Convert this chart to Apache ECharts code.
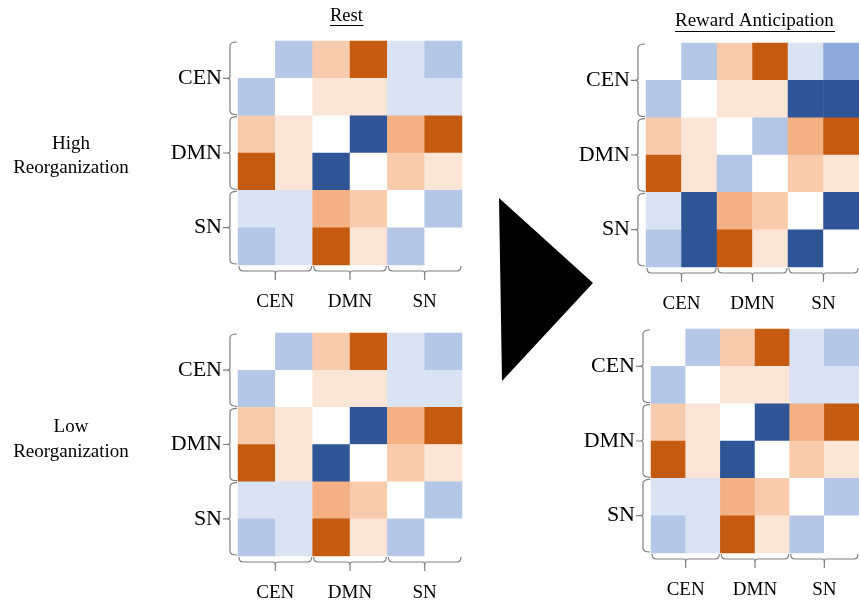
<!DOCTYPE html>
<html>
<head>
<meta charset="utf-8">
<script src="https://cdn.jsdelivr.net/npm/echarts@6/dist/echarts.min.js"></script>
<style>
html,body{margin:0;padding:0;background:#fff;}
#chart{width:859px;height:603px;}
</style>
</head>
<body>
<div id="chart"></div>
<script>
// Network groups (tick labels) and node indices
const groups = ['CEN', 'DMN', 'SN'];
const nodes = ['0', '1', '2', '3', '4', '5'];
const conditions = ['Rest', 'Reward Anticipation'];
const rowLabels = ['High\nReorganization', 'Low\nReorganization'];

// Connectivity change levels (-4 strong negative ... 0 ... 4 strong positive), rows top to bottom
const restHigh = [
  [0, -2, 2, 4, -1, -2],
  [-2, 0, 1, 1, -1, -1],
  [2, 1, 0, -4, 3, 4],
  [4, 1, -4, 0, 2, 1],
  [-1, -1, 3, 2, 0, -2],
  [-2, -1, 4, 1, -2, 0]
];
const rewardHigh = [
  [0, -2, 2, 4, -1, -3],
  [-2, 0, 1, 1, -4, -4],
  [2, 1, 0, -2, 3, 4],
  [4, 1, -2, 0, 2, 1],
  [-1, -4, 3, 2, 0, -4],
  [-2, -4, 4, 1, -4, 0]
];
const restLow = [
  [0, -2, 2, 4, -1, -2],
  [-2, 0, 1, 1, -1, -1],
  [2, 1, 0, -4, 3, 4],
  [4, 1, -4, 0, 2, 1],
  [-1, -1, 3, 2, 0, -2],
  [-2, -1, 4, 1, -2, 0]
];
const rewardLow = [
  [0, -2, 2, 4, -1, -2],
  [-2, 0, 1, 1, -1, -1],
  [2, 1, 0, -4, 3, 4],
  [4, 1, -4, 0, 2, 1],
  [-1, -1, 3, 2, 0, -2],
  [-2, -1, 4, 1, -2, 0]
];

const levels = [4, 3, 2, 1, 0, -1, -2, -3, -4];
const levelColors = ['#C55A11', '#F4B183', '#F8CBAD', '#FBE5D6', '#FFFFFF', '#DAE3F3', '#B4C7E7', '#8FAADC', '#2F5597'];

const matrices = [restHigh, restLow, rewardHigh, rewardLow];
const grids = [
  {left: 238, top: 41, width: 224, height: 224},
  {left: 238, top: 333, width: 224, height: 224},
  {left: 646, top: 43, width: 224, height: 224},
  {left: 651, top: 329, width: 224, height: 224}
];

const FONT = '"Liberation Serif", "Times New Roman", serif';
const braceColor = '#808080';

function toCells(m) {
  const out = [];
  for (let r = 0; r < m.length; r++)
    for (let c = 0; c < m[r].length; c++) out.push([c, r, m[r][c]]);
  return out;
}

const xAxes = [], yAxes = [], series = [];
grids.forEach((g, i) => {
  xAxes.push({type: 'category', gridIndex: i, data: nodes, show: false});
  xAxes.push({type: 'category', gridIndex: i, data: groups, position: 'bottom',
    axisLine: {show: false}, axisTick: {show: false}, splitLine: {show: false},
    axisLabel: {margin: 28, fontFamily: FONT, fontSize: 19, color: '#000'}});
  yAxes.push({type: 'category', gridIndex: i, data: nodes, inverse: true, show: false});
  yAxes.push({type: 'category', gridIndex: i, data: groups, inverse: true, position: 'left',
    axisLine: {show: false}, axisTick: {show: false}, splitLine: {show: false},
    axisLabel: {margin: 16, fontFamily: FONT, fontSize: 22, color: '#000', padding: [3, 0, 0, 0]}});
});

matrices.forEach((m, i) => {
  series.push({
    type: 'heatmap', xAxisIndex: 2 * i, yAxisIndex: 2 * i,
    data: toCells(m), itemStyle: {borderWidth: 0},
    emphasis: {disabled: true}, progressive: 0, animation: false
  });
});

function braceRender(params, api) {
  const g = api.value(0);
  const sz = api.size([1, 1]);
  const w = sz[0], h = sz[1];
  const a = api.coord([2 * g, 5]);
  const b = api.coord([2 * g + 1, 5]);
  const x0 = a[0] - w / 2 + 1, x1 = b[0] + w / 2 - 1, Y = a[1] + h / 2;
  const xm = (x0 + x1) / 2;
  const c = api.coord([0, 2 * g]);
  const d = api.coord([0, 2 * g + 1]);
  const y0 = c[1] - h / 2 + 1, y1 = d[1] + h / 2 - 1, X = c[0] - w / 2;
  const ym = (y0 + y1) / 2;
  const bottom = 'M' + x0 + ' ' + (Y + 1) + ' Q' + x0 + ' ' + (Y + 6) + ' ' + (x0 + 4) + ' ' + (Y + 6) +
    ' L' + (xm - 2) + ' ' + (Y + 6) + ' Q' + xm + ' ' + (Y + 6) + ' ' + xm + ' ' + (Y + 9) +
    ' L' + xm + ' ' + (Y + 15) + ' M' + xm + ' ' + (Y + 9) + ' Q' + xm + ' ' + (Y + 6) + ' ' + (xm + 2) + ' ' + (Y + 6) +
    ' L' + (x1 - 4) + ' ' + (Y + 6) + ' Q' + x1 + ' ' + (Y + 6) + ' ' + x1 + ' ' + (Y + 1);
  const left = 'M' + (X - 1) + ' ' + y0 + ' Q' + (X - 8) + ' ' + y0 + ' ' + (X - 8) + ' ' + (y0 + 4) +
    ' L' + (X - 8) + ' ' + (ym - 2) + ' Q' + (X - 8) + ' ' + ym + ' ' + (X - 11) + ' ' + ym +
    ' L' + (X - 15) + ' ' + ym + ' M' + (X - 11) + ' ' + ym + ' Q' + (X - 8) + ' ' + ym + ' ' + (X - 8) + ' ' + (ym + 2) +
    ' L' + (X - 8) + ' ' + (y1 - 4) + ' Q' + (X - 8) + ' ' + y1 + ' ' + (X - 1) + ' ' + y1;
  return {
    type: 'group',
    children: [
      {type: 'path', shape: {pathData: bottom}, style: {stroke: braceColor, fill: 'none', lineWidth: 1.2}},
      {type: 'path', shape: {pathData: left}, style: {stroke: braceColor, fill: 'none', lineWidth: 1.2}}
    ]
  };
}

grids.forEach((g, i) => {
  series.push({
    type: 'custom', xAxisIndex: 2 * i, yAxisIndex: 2 * i, clip: false, silent: true,
    data: [[0, 0], [1, 1], [2, 2]], renderItem: braceRender, animation: false,
    encode: {x: 0, y: 1}
  });
});

const chart = echarts.init(document.getElementById('chart'), null, {renderer: 'canvas'});
chart.setOption({
  animation: false,
  backgroundColor: '#fff',
  grid: grids.map(g => Object.assign({containLabel: false}, g)),
  xAxis: xAxes,
  yAxis: yAxes,
  visualMap: {
    type: 'piecewise', show: false, seriesIndex: [0, 1, 2, 3], dimension: 2,
    pieces: levels.map((v, k) => ({value: v, color: levelColors[k]}))
  },
  series: series,
  graphic: [
    {type: 'text', left: 330, top: 7, style: {text: conditions[0], font: '18.5px ' + FONT, fill: '#000'}},
    {type: 'line', shape: {x1: 330, y1: 25.5, x2: 363.5, y2: 25.5}, style: {stroke: '#000', lineWidth: 1}},
    {type: 'text', left: 675, top: 12, style: {text: conditions[1], font: '19px ' + FONT, fill: '#000'}},
    {type: 'line', shape: {x1: 675, y1: 31.5, x2: 835, y2: 31.5}, style: {stroke: '#000', lineWidth: 1}},
    {type: 'text', x: 71, y: 156, style: {text: rowLabels[0], font: '19px ' + FONT, fill: '#000', align: 'center', verticalAlign: 'middle', lineHeight: 24}},
    {type: 'text', x: 71, y: 440, style: {text: rowLabels[1], font: '19px ' + FONT, fill: '#000', align: 'center', verticalAlign: 'middle', lineHeight: 25}},
    {type: 'polygon', shape: {points: [[499, 198], [502, 381], [593, 283]]}, style: {fill: '#000'}}
  ]
});
</script>
</body>
</html>
